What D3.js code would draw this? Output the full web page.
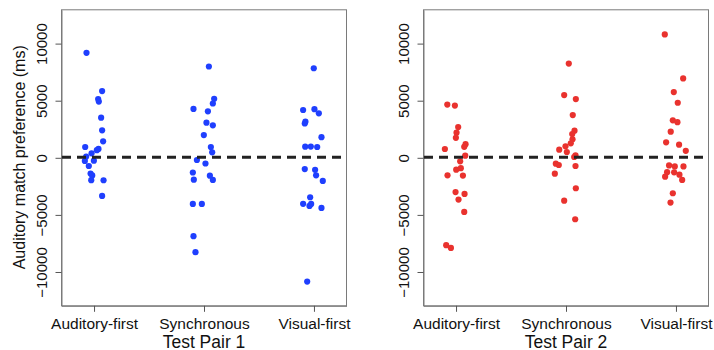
<!DOCTYPE html>
<html>
<head>
<meta charset="utf-8">
<script src="https://cdn.jsdelivr.net/npm/d3@7"></script>
<style>
  html, body { margin: 0; padding: 0; background: #fff; }
  svg { display: block; }
  text { font-family: "Liberation Sans", Arial, Helvetica, sans-serif; fill: #111; }
</style>
</head>
<body>
<svg id="chart" width="714" height="350"></svg>
<script>
// ---------- data ----------
const categories = ["Auditory-first", "Synchronous", "Visual-first"];
const yTicks = [-10000, -5000, 0, 5000, 10000];
const panelTitles = ["Test Pair 1", "Test Pair 2"];
const yAxisTitle = "Auditory match preference (ms)";

// Test Pair 1 (blue)
const pair1AuditoryFirst = [9150, 5800, 5100, 4880, 3470, 2360, 1400, 900, 730, 620, 350, 60, -320, -295, -760, -1420, -1590, -2000, -2010, -3385];
const pair1AuditoryJitter = [-0.064, 0.078, 0.042, 0.048, 0.069, 0.078, 0.087, -0.076, 0.045, 0.03, -0.018, -0.067, -0.079, 0.003, -0.043, -0.027, -0.012, -0.021, 0.091, 0.078];
const pair1Synchronous = [7950, 4240, 5120, 4710, 4025, 3030, 2800, 1950, 900, 437, -235, -545, -1330, -1605, -1960, -1985, -4085, -4085, -6910, -8310];
const pair1SyncJitter = [0.049, -0.091, 0.097, 0.085, 0.04, 0.027, 0.085, 0.003, 0.067, 0.079, -0.06, 0.018, -0.097, 0.058, -0.088, 0.085, -0.097, -0.015, -0.091, -0.073];
const pair1VisualFirst = [7800, 4140, 4215, 3850, 3120, 2960, 1765, 930, 935, 900, -1035, -1095, -1575, -2070, -3500, -4070, -4260, -4085, -4435, -10880];
const pair1VisualJitter = [0.003, -0.094, 0.009, 0.049, -0.073, -0.079, 0.073, -0.075, -0.024, 0.034, -0.079, 0.015, 0.024, 0.085, -0.03, -0.094, -0.036, -0.021, 0.073, -0.057];

// Test Pair 2 (red)
const pair2AuditoryFirst = [4620, 4530, 2650, 2155, 1705, 728, 1150, 915, 143, -350, -1082, -948, -1575, -1604, -3047, -3209, -3706, -4784, -7698, -7933];
const pair2AuditoryJitter = [-0.075, -0.006, 0.024, 0.009, 0.003, -0.097, 0.091, 0.079, 0.088, 0.042, 0.006, 0.048, -0.073, 0.067, 0, 0.082, 0.027, 0.079, -0.085, -0.042];
const pair2Synchronous = [8210, 5450, 5100, 3700, 2330, 2030, 1575, 1225, 665, 962, 464, 175, 26, -560, -674, -761, -1435, -2712, -3797, -5424];
const pair2SyncJitter = [0.03, -0.012, 0.094, 0.066, 0.082, 0.061, 0.064, 0.048, -0.057, 0, 0.012, 0.091, 0.079, -0.088, -0.061, 0.091, -0.097, 0.094, -0.012, 0.088];
const pair2VisualFirst = [10760, 6911, 5713, 4779, 3237, 3076, 2242, 1312, 1105, 567, -715, -801, -801, -1299, -1312, -1694, -1519, -1984, -3150, -3968];
const pair2VisualJitter = [-0.097, 0.07, -0.015, 0.021, -0.024, 0.018, -0.043, -0.085, 0.033, 0.094, -0.058, -0.006, 0.073, -0.076, -0.012, -0.094, 0.036, 0.061, -0.024, -0.045];

const panelColors = ["#1f3ffe", "#e9322e"];

// ---------- build ----------
function buildPoints(valueArrays, jitterArrays) {
  const pts = [];
  valueArrays.forEach((vals, ci) => {
    vals.forEach((v, i) => pts.push({ cat: ci + 1, jit: jitterArrays[ci][i], value: v }));
  });
  return pts;
}
const panels = [
  { title: panelTitles[0], color: panelColors[0], left: 61,
    points: buildPoints([pair1AuditoryFirst, pair1Synchronous, pair1VisualFirst],
                        [pair1AuditoryJitter, pair1SyncJitter, pair1VisualJitter]) },
  { title: panelTitles[1], color: panelColors[1], left: 423,
    points: buildPoints([pair2AuditoryFirst, pair2Synchronous, pair2VisualFirst],
                        [pair2AuditoryJitter, pair2SyncJitter, pair2VisualJitter]) }
];

const svg = d3.select("#chart");
const plotTop = 9.3, plotBottom = 305.3, panelW = 285;
const y = d3.scaleLinear().domain([-12960, 12960]).range([plotBottom, plotTop]);

panels.forEach((p) => {
  const x = d3.scaleLinear().domain([0.704, 3.296]).range([p.left, p.left + panelW]);
  const g = svg.append("g");

  // box
  g.append("rect")
    .attr("x", p.left + 0.5).attr("y", plotTop + 0.5)
    .attr("width", panelW).attr("height", plotBottom - plotTop)
    .attr("fill", "none").attr("stroke", "#7a7a7a").attr("stroke-width", 1);

  // bottom axis
  const xAxis = d3.axisBottom(x).tickValues([1, 2, 3])
    .tickFormat((d) => categories[d - 1]).tickSize(6).tickPadding(6).tickSizeOuter(0);
  const xa = g.append("g").attr("transform", `translate(0.5,${plotBottom + 0.5})`).call(xAxis);
  xa.select(".domain").attr("stroke", "#7a7a7a");
  xa.selectAll(".tick line").attr("stroke", "#555");
  xa.selectAll(".tick text").attr("font-size", "15.5px").attr("fill", "#111")
    .attr("dy", "0").attr("y", 23.5);

  // left axis
  const yAxis = d3.axisLeft(y).tickValues(yTicks).tickFormat(d3.format("d"))
    .tickSize(6).tickSizeOuter(0);
  const ya = g.append("g").attr("transform", `translate(${p.left + 0.5},0.5)`).call(yAxis);
  ya.select(".domain").attr("stroke", "#7a7a7a");
  ya.selectAll(".tick line").attr("stroke", "#555");
  ya.selectAll(".tick text")
    .attr("font-size", "15px").attr("fill", "#111")
    .attr("x", null).attr("dy", null)
    .attr("text-anchor", "middle")
    .attr("transform", "translate(-14.5,0) rotate(-90)");

  // points
  g.append("g").selectAll("circle").data(p.points).join("circle")
    .attr("cx", (d) => x(d.cat + d.jit))
    .attr("cy", (d) => y(d.value))
    .attr("r", 3.1)
    .attr("fill", p.color);

  // zero reference line
  g.append("line")
    .attr("x1", x.range()[0] + 1).attr("x2", x.range()[1])
    .attr("y1", y(0)).attr("y2", y(0))
    .attr("stroke", "#222").attr("stroke-width", 3)
    .attr("stroke-dasharray", "9,6");

  // x title
  g.append("text")
    .attr("x", (x.range()[0] + x.range()[1]) / 2 + 0.5)
    .attr("y", 347.5)
    .attr("text-anchor", "middle")
    .attr("font-size", "17.5px")
    .text(p.title);
});

// y title (left panel only)
svg.append("text")
  .attr("transform", `translate(25,${(plotTop + plotBottom) / 2}) rotate(-90)`)
  .attr("text-anchor", "middle")
  .attr("font-size", "16px")
  .text(yAxisTitle);
</script>
</body>
</html>
